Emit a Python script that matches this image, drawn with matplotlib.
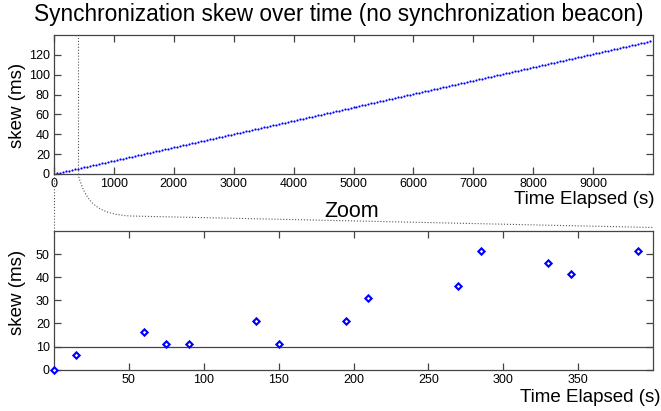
import numpy as np
import matplotlib
matplotlib.use("Agg")
import matplotlib.pyplot as plt
from matplotlib.path import Path
from matplotlib.patches import PathPatch

plt.rcParams['font.family'] = ['Liberation Sans', 'DejaVu Sans']

# full run: one sample every 50 s
top_time = list(range(0, 10000, 50))
top_skew = [
    0.0, 0.9, 1.2, 2.1, 2.6, 3.5, 3.9, 4.8, 5.3, 6.1, 6.6, 7.5, 8.0, 8.8, 9.3, 10.2, 10.6, 11.5, 12.0, 12.9,
    13.5, 14.0, 14.9, 15.3, 16.2, 16.7, 17.6, 18.0, 18.9, 19.4, 20.2, 20.7, 21.6, 22.1, 22.9, 23.4, 24.3, 24.7, 25.6, 26.1,
    26.8, 27.6, 28.1, 29.0, 29.4, 30.3, 30.8, 31.7, 32.1, 33.0, 33.5, 34.3, 34.8, 35.7, 36.2, 37.0, 37.5, 38.4, 38.8, 39.7,
    40.2, 41.1, 41.5, 42.4, 42.9, 43.7, 44.2, 45.1, 45.6, 46.4, 46.9, 47.8, 48.2, 49.1, 49.6, 50.5, 50.9, 51.8, 52.3, 53.1,
    53.6, 54.5, 55.0, 55.8, 56.3, 57.2, 57.6, 58.5, 59.0, 59.9, 60.3, 61.2, 61.7, 62.5, 63.0, 63.9, 64.4, 65.2, 65.7, 66.6,
    67.1, 67.9, 68.4, 69.3, 69.7, 70.6, 71.1, 72.0, 72.4, 73.3, 73.8, 74.6, 75.1, 76.0, 76.5, 77.3, 77.8, 78.7, 79.1, 80.0,
    80.5, 81.4, 81.8, 82.7, 83.2, 84.0, 84.5, 85.4, 85.9, 86.7, 87.2, 88.1, 88.5, 89.4, 89.9, 90.8, 91.2, 92.1, 92.6, 93.4,
    93.9, 94.8, 95.3, 96.1, 96.6, 97.5, 97.9, 98.8, 99.3, 100.1, 100.6, 101.5, 102.0, 102.8, 103.3, 104.2, 104.6, 105.5, 106.0, 106.9,
    107.3, 108.2, 108.7, 109.5, 110.0, 110.9, 111.4, 112.2, 112.7, 113.6, 114.0, 114.9, 115.4, 116.3, 116.7, 117.6, 118.1, 118.9, 119.4, 120.3,
    120.8, 121.6, 122.1, 123.0, 123.4, 124.3, 124.8, 125.7, 126.1, 127.0, 127.5, 128.3, 128.8, 129.7, 130.2, 131.0, 131.5, 132.4, 132.8, 133.7,
]

# zoomed first 400 s
zoom_time = [0, 15, 60, 75, 90, 135, 150, 195, 210, 270, 285, 330, 345, 390]
zoom_skew = [0, 6.2, 16.2, 11.2, 11.2, 21.2, 11.2, 21.2, 31.2, 36.2, 51.2, 46.2, 41.2, 51.2]
zoom_end = 400
threshold = 10

W, H = 661, 411
fig = plt.figure(figsize=(W / 100, H / 100), dpi=100)

edge = '#444444'
ax1 = fig.add_axes([54 / W, 1 - 174 / H, 599 / W, 139 / H])
ax2 = fig.add_axes([54 / W, 1 - 369.7 / H, 599 / W, 138.7 / H])

for ax in (ax1, ax2):
    for s in ax.spines.values():
        s.set_color(edge)
        s.set_linewidth(0.9)
    ax.tick_params(direction='in', length=5, width=0.9, color=edge,
                   top=True, right=True, labelsize=9, pad=3)

ax1.plot(top_time, top_skew, linestyle='none', marker='o', markersize=1.6,
         markeredgewidth=0, color='#0000ff')
ax1.axvline(zoom_end, color='#555555', lw=0.8, ls=':')
ax1.set_xlim(0, 10000)
ax1.set_ylim(0, 140)
ax1.set_xticks(range(0, 10000, 1000))
ax1.set_yticks(range(0, 140, 20))
ax1.set_ylabel('skew (ms)', fontsize=13.5)
ax1.yaxis.set_label_coords(-0.047, 0.49)
ax1.set_xlabel('Time Elapsed (s)', fontsize=13.5, ha='right')
ax1.xaxis.set_label_coords(1.003, -0.122)

ax2.plot(zoom_time, zoom_skew, linestyle='none', marker='D', markersize=3.2,
         markeredgewidth=1.5, markerfacecolor='white', markeredgecolor='#0000ff',
         clip_on=False, zorder=3)
ax2.axhline(threshold, color=edge, lw=0.9)
ax2.set_xlim(0, zoom_end)
ax2.set_ylim(0, 60)
ax2.set_xticks(range(50, 400, 50))
ax2.set_yticks(range(0, 60, 10))
ax2.set_ylabel('skew (ms)', fontsize=13.5)
ax2.yaxis.set_label_coords(-0.047, 0.56)
ax2.set_xlabel('Time Elapsed (s)', fontsize=13.5, ha='right')
ax2.xaxis.set_label_coords(1.012, -0.139)


# zoom callout lines, drawn in pixel space
def fp(x, y):
    return (x / W, 1 - y / H)


verts = [fp(78, 174), fp(86, 205), fp(100, 214), fp(130, 216), fp(653, 227.5)]
codes = [Path.MOVETO, Path.CURVE4, Path.CURVE4, Path.CURVE4, Path.LINETO]
fig.patches.append(PathPatch(Path(verts, codes), transform=fig.transFigure,
                             fill=False, edgecolor='#555555', lw=0.8, ls=':'))
left = Path([fp(54, 174), fp(54, 231)], [Path.MOVETO, Path.LINETO])
fig.patches.append(PathPatch(left, transform=fig.transFigure,
                             fill=False, edgecolor='#555555', lw=0.8, ls=':'))

fig.text(352 / W, 1 - 211 / H, 'Zoom', fontsize=15.5, ha='center', va='center')
fig.text(338.5 / W, 1 - 15 / H, 'Synchronization skew over time (no synchronization beacon)',
         fontsize=16.3, ha='center', va='center')

fig.savefig('out.png', dpi=100)
